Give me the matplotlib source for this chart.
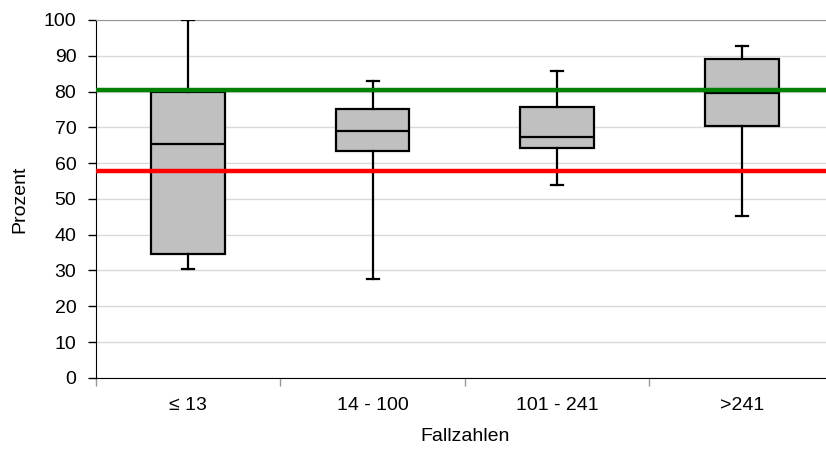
import matplotlib
matplotlib.use("Agg")
import matplotlib.pyplot as plt
from matplotlib.ticker import FixedLocator, NullFormatter

plt.rcParams['font.family'] = ['Liberation Sans', 'DejaVu Sans']

categories = ["\u2264 13", "14 - 100", "101 - 241", ">241"]
whisker_low = [30.3, 27.5, 54.0, 45.1]
q1 = [34.5, 63.4, 64.3, 70.4]
median = [65.3, 68.9, 67.2, 79.6]
q3 = [80.0, 75.0, 75.6, 89.1]
whisker_high = [100.0, 83.0, 85.7, 92.6]
target_line = 80.5
reference_line = 57.8

stats = [
    dict(whislo=lo, q1=a, med=m, q3=b, whishi=hi, label=c)
    for c, lo, a, m, b, hi in zip(categories, whisker_low, q1, median, q3, whisker_high)
]

fig = plt.figure(figsize=(8.26, 4.49), dpi=100)
ax = fig.add_axes([95.7 / 826, 1 - 377.8 / 449, 738.3 / 826, 357.8 / 449])

positions = list(range(len(categories)))
ax.bxp(
    stats, positions=positions, widths=0.4, patch_artist=True, showfliers=False,
    boxprops=dict(facecolor="#c0c0c0", edgecolor="black", linewidth=1.6),
    medianprops=dict(color="black", linewidth=1.6),
    whiskerprops=dict(color="black", linewidth=1.6),
    capprops=dict(color="black", linewidth=1.6),
    capwidths=0.065, zorder=3,
)

ax.axhline(target_line, color="#008000", linewidth=3.2, zorder=4)
ax.axhline(reference_line, color="#ff0000", linewidth=3.2, zorder=4)

ax.set_xlim(-0.5, len(categories) - 0.5)
ax.set_ylim(0, 100)
ax.set_yticks(range(0, 101, 10))
ax.yaxis.grid(True, color="#d9d9d9", linewidth=1.0, zorder=0)
ax.set_axisbelow(True)

ax.set_xticks(positions)
ax.set_xticklabels(categories)
ax.xaxis.set_minor_locator(FixedLocator([p + 0.5 for p in positions[:-1]] + [-0.5]))
ax.xaxis.set_minor_formatter(NullFormatter())
ax.tick_params(axis="x", which="major", length=0, pad=14, labelsize=14)
ax.tick_params(axis="x", which="minor", length=6, color="#999999", width=1)
ax.tick_params(axis="y", length=6, width=1, color="black", pad=8, labelsize=14)

ax.spines["left"].set_color("black")
ax.spines["bottom"].set_color("black")
ax.spines["top"].set_color("#999999")
ax.spines["right"].set_visible(False)

ax.set_xlabel("Fallzahlen", fontsize=14, labelpad=10)
ax.set_ylabel("Prozent", fontsize=14, labelpad=11)

fig.savefig("out.png", dpi=100)
